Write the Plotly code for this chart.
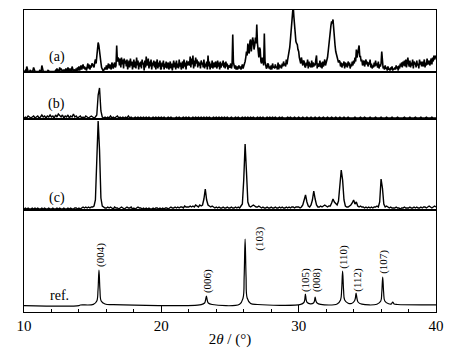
import plotly.graph_objects as go
from plotly.subplots import make_subplots

# ---- data ----
two_theta_start = 10.0
step_a = 0.05   # pattern (a): every 0.05 deg, 10.0 .. 40.0
step_bc = 0.1   # patterns (b), (c): every 0.1 deg, 10.0 .. 40.0

pattern_a = [
    0, 0, 1, 0, 5, 0, 0, 0, 0, 1,
    0, 0, 0, 1, 4, 0, 0, 0, 0, 0,
    0, 0, 0, 1, 0, 0, 6, 0, 0, 0,
    0, 0, 0, 0, 0, 1, 0, 0, 0, 0,
    0, 0, 0, 0, 0, 0, 1, 0, 3, 0,
    2, 0, 4, 1, 3, 0, 0, 1, 0, 2,
    0, 3, 1, 0, 4, 2, 0, 3, 1, 0,
    5, 1, 0, 2, 1, 0, 3, 0, 4, 1,
    5, 1, 3, 6, 2, 4, 7, 3, 5, 2,
    4, 1, 6, 8, 3, 7, 2, 6, 4, 8,
    7, 5, 4, 9, 12, 8, 18, 22, 29, 26,
    18, 12, 9, 4, 2, 1, 1, 3, 4, 2,
    6, 2, 5, 8, 3, 7, 4, 2, 9, 5,
    3, 7, 9, 4, 6, 26, 10, 14, 12, 6,
    13, 4, 14, 7, 12, 3, 13, 8, 11, 5,
    12, 2, 9, 11, 4, 13, 6, 10, 2, 8,
    12, 4, 10, 3, 14, 6, 11, 2, 9, 5,
    10, 3, 12, 7, 9, 1, 11, 4, 15, 6,
    8, 13, 3, 10, 5, 12, 2, 9, 6, 11,
    4, 10, 2, 8, 12, 3, 9, 5, 11, 2,
    3, 9, 5, 11, 2, 8, 4, 10, 3, 7,
    9, 2, 6, 10, 3, 8, 1, 7, 11, 4,
    9, 2, 11, 4, 8, 3, 12, 5, 9, 2,
    7, 10, 3, 12, 5, 9, 2, 11, 6, 8,
    10, 6, 15, 4, 13, 7, 16, 3, 11, 5,
    14, 8, 12, 4, 10, 6, 9, 3, 11, 7,
    9, 4, 12, 3, 8, 5, 10, 2, 16, 5,
    10, 2, 8, 4, 11, 3, 7, 9, 4, 10,
    7, 3, 11, 5, 9, 2, 10, 4, 8, 6,
    11, 4, 9, 3, 10, 5, 8, 2, 6, 4,
    4, 8, 3, 6, 37, 9, 5, 3, 6, 2,
    5, 2, 4, 6, 3, 5, 2, 4, 7, 3,
    5, 8, 10, 14, 20, 16, 28, 22, 18, 30,
    32, 20, 25, 34, 30, 22, 26, 34, 28, 47,
    28, 20, 14, 24, 22, 10, 8, 14, 12, 6,
    38, 10, 6, 3, 4, 8, 7, 3, 5, 2,
    6, 2, 8, 4, 5, 3, 7, 4, 5, 2,
    9, 2, 7, 4, 6, 3, 8, 5, 10, 6,
    8, 5, 12, 7, 12, 16, 18, 24, 32, 40,
    52, 60, 66, 55, 45, 38, 30, 28, 27, 22,
    20, 14, 12, 8, 14, 9, 6, 11, 10, 5,
    4, 9, 6, 12, 3, 10, 5, 8, 4, 11,
    4, 9, 5, 8, 6, 12, 16, 3, 8, 5,
    6, 11, 4, 9, 3, 10, 5, 8, 12, 6,
    8, 12, 14, 20, 28, 34, 38, 46, 50, 48,
    52, 40, 34, 26, 20, 17, 14, 10, 9, 11,
    10, 5, 9, 4, 8, 6, 10, 3, 9, 5,
    8, 4, 10, 6, 9, 3, 7, 5, 10, 6,
    11, 8, 14, 10, 22, 14, 18, 20, 26, 15,
    15, 10, 12, 6, 8, 11, 5, 9, 12, 7,
    10, 5, 9, 7, 12, 4, 8, 3, 6, 4,
    9, 5, 11, 6, 8, 4, 10, 3, 7, 5,
    8, 20, 6, 3, 5, 2, 6, 3, 4, 1,
    5, 2, 3, 1, 4, 2, 5, 1, 3, 2,
    4, 2, 6, 3, 5, 1, 6, 3, 8, 5,
    9, 4, 10, 6, 11, 5, 12, 4, 9, 14,
    8, 5, 11, 4, 9, 6, 12, 3, 10, 7,
    9, 4, 11, 6, 8, 3, 12, 7, 10, 5,
    10, 5, 8, 12, 4, 9, 6, 13, 7, 11,
    11, 6, 9, 13, 7, 14, 10, 16, 12, 15,
    16,
]

pattern_b = [
    1, 2, 1, 3, 2, 1, 2, 3, 1, 2,
    3, 1, 2, 4, 2, 3, 1, 3, 2, 4,
    2, 3, 1, 4, 2, 5, 3, 2, 4, 1,
    3, 2, 4, 1, 3, 2, 5, 2, 3, 1,
    2, 3, 1, 2, 1, 3, 2, 1, 2, 3,
    2, 1, 2, 4, 24, 31, 8, 2, 1, 2,
    1, 2, 1, 3, 1, 2, 1, 2, 3, 1,
    2, 1, 2, 1, 2, 1, 3, 1, 2, 1,
    1, 2, 1, 2, 1, 2, 1, 2, 1, 2,
    1, 2, 1, 1, 2, 1, 2, 1, 2, 1,
    2, 1, 2, 1, 1, 2, 1, 2, 1, 1,
    1, 2, 1, 2, 1, 1, 2, 1, 2, 1,
    2, 1, 1, 2, 1, 2, 1, 2, 1, 2,
    1, 2, 1, 2, 1, 2, 1, 1, 2, 1,
    2, 1, 2, 1, 2, 1, 2, 1, 2, 1,
    1, 2, 1, 1, 2, 1, 2, 1, 1, 2,
    1, 2, 1, 2, 1, 2, 1, 2, 1, 1,
    2, 1, 2, 1, 2, 1, 1, 2, 1, 2,
    1, 2, 1, 2, 1, 1, 2, 1, 2, 1,
    1, 1, 2, 1, 2, 1, 1, 2, 1, 1,
    2, 1, 1, 2, 1, 1, 2, 1, 1, 2,
    1, 1, 2, 1, 1, 2, 1, 1, 2, 1,
    1, 2, 1, 1, 2, 1, 1, 2, 1, 1,
    2, 1, 1, 2, 1, 1, 2, 1, 1, 1,
    1, 2, 1, 1, 1, 2, 1, 1, 2, 1,
    1, 1, 2, 1, 1, 1, 2, 1, 1, 1,
    2, 1, 1, 1, 2, 1, 1, 1, 2, 1,
    1, 1, 2, 1, 1, 1, 1, 2, 1, 1,
    1, 2, 1, 1, 1, 2, 1, 1, 1, 2,
    1, 1, 1, 2, 1, 1, 1, 2, 1, 1,
    1,
]

pattern_c = [
    1, 2, 1, 2, 1, 1, 2, 1, 2, 1,
    2, 1, 1, 2, 1, 2, 1, 1, 2, 1,
    1, 2, 1, 1, 2, 1, 2, 1, 1, 2,
    1, 1, 2, 1, 2, 1, 1, 2, 2, 1,
    2, 1, 2, 3, 2, 3, 2, 3, 2, 3,
    3, 4, 10, 45, 89, 60, 12, 4, 3, 2,
    2, 3, 2, 3, 2, 1, 3, 2, 2, 1,
    2, 3, 2, 1, 2, 3, 2, 2, 3, 1,
    2, 1, 2, 3, 2, 2, 1, 2, 1, 2,
    1, 2, 1, 1, 2, 1, 2, 2, 1, 2,
    1, 2, 1, 2, 2, 1, 2, 3, 2, 2,
    3, 2, 3, 2, 3, 3, 2, 4, 3, 3,
    3, 4, 3, 4, 3, 5, 4, 3, 5, 4,
    5, 11, 21, 10, 5, 4, 3, 4, 3, 2,
    3, 2, 3, 2, 2, 3, 2, 2, 3, 2,
    2, 3, 2, 2, 3, 2, 3, 2, 4, 6,
    30, 66, 38, 8, 4, 3, 4, 5, 4, 3,
    3, 4, 3, 2, 3, 2, 2, 3, 2, 2,
    3, 2, 2, 3, 2, 2, 3, 2, 3, 2,
    2, 3, 2, 3, 2, 3, 3, 2, 3, 3,
    3, 2, 3, 5, 9, 15, 8, 4, 3, 5,
    10, 19, 11, 5, 3, 3, 4, 3, 4, 5,
    4, 3, 4, 4, 7, 11, 8, 6, 5, 9,
    22, 40, 30, 10, 4, 3, 3, 4, 5, 7,
    10, 6, 8, 4, 3, 4, 3, 3, 2, 3,
    2, 3, 2, 3, 2, 3, 3, 4, 3, 8,
    31, 22, 6, 3, 4, 3, 2, 3, 2, 2,
    2, 3, 2, 2, 1, 2, 2, 3, 2, 2,
    2, 3, 2, 2, 3, 2, 3, 2, 2, 3,
    2, 3, 3, 2, 3, 4, 3, 2, 3, 4,
    3,
]

# reference (simulated) pattern, read point by point
ref_x = [10.0, 14.0, 14.1, 15.05, 15.3, 15.39, 15.46, 15.53, 15.62, 15.9, 16.5,
         22.9, 23.15, 23.22, 23.28, 23.34, 23.42, 23.7,
         25.7, 25.95, 26.03, 26.1, 26.17, 26.25, 26.5, 27.0,
         30.15, 30.38, 30.44, 30.49, 30.55, 30.62, 30.85,
         31.08, 31.15, 31.2, 31.26, 31.34, 31.6,
         32.8, 33.05, 33.13, 33.2, 33.27, 33.35, 33.6,
         33.85, 34.06, 34.13, 34.18, 34.24, 34.32, 34.6,
         35.7, 35.98, 36.05, 36.12, 36.19, 36.27, 36.55,
         36.75, 36.85, 36.95, 37.2, 40.0]
ref_y = [-0.6, -0.6, 0, 0.6, 4, 15, 35, 15, 4, 1, 0.4,
         0.4, 2, 5, 9, 5, 2, 0.5,
         0.8, 7, 28, 66, 28, 7, 1.5, 0.5,
         0.6, 2.5, 5, 11, 5, 2.5, 1.2,
         2, 4, 8, 4, 2, 0.6,
         1, 5, 15, 34, 15, 5, 1.8,
         1.5, 4, 7, 12, 7, 3, 0.8,
         0.8, 4, 12, 28, 12, 4, 1.2,
         1, 3, 1, 0.5, 0.2]

panel_labels = ["(a)", "(b)", "(c)", "ref."]
hkl_labels = ["(004)", "(006)", "(103)", "(105)", "(008)", "(110)", "(112)", "(107)"]
hkl_label_x = [15.53, 23.33, 27.09, 30.47, 31.27, 33.21, 34.23, 36.13]
hkl_label_y = [50, 24, 66, 25, 25, 48, 25, 43]

x_ticks = [10, 20, 30, 40]

assert len(pattern_a) == 601, len(pattern_a)
assert len(pattern_b) == 301 and len(pattern_c) == 301
assert len(ref_x) == len(ref_y)

# ---- figure ----
FONT = "Liberation Serif"
fig = make_subplots(rows=4, cols=1, shared_xaxes=True, vertical_spacing=0,
                    row_heights=[61.5, 47.5, 91, 102])

series = [(pattern_a, step_a, 1.6), (pattern_b, step_bc, 1.4), (pattern_c, step_bc, 1.4)]
for i, (pat, dx, w) in enumerate(series):
    fig.add_trace(go.Scatter(x0=two_theta_start, dx=dx, y=pat,
                             mode="lines", line=dict(color="black", width=w),
                             showlegend=False, hoverinfo="skip"), row=i + 1, col=1)
fig.add_trace(go.Scatter(x=ref_x, y=ref_y, mode="lines", line=dict(color="black", width=1.2),
                         showlegend=False, hoverinfo="skip", line_shape="spline"),
              row=4, col=1)

y_ranges = [[0, 61.5], [0, 47.5], [0, 91], [-7, 95]]
for i in range(4):
    fig.update_yaxes(range=y_ranges[i], showticklabels=False, ticks="",
                     showgrid=False, zeroline=False, showline=True, mirror=True,
                     linecolor="black", linewidth=1, row=i + 1, col=1)
    fig.update_xaxes(range=[10, 40], showgrid=False, zeroline=False,
                     showline=True, mirror=True, linecolor="black", linewidth=1,
                     row=i + 1, col=1)
for i in range(3):
    fig.update_xaxes(showticklabels=False, ticks="", row=i + 1, col=1)

fig.update_xaxes(tickvals=x_ticks, ticks="inside", ticklen=7, tickwidth=1,
                 tickcolor="black",
                 minor=dict(dtick=2, tick0=10, ticks="inside", ticklen=3,
                            tickcolor="black", tickwidth=1),
                 tickfont=dict(family=FONT, size=15, color="black"),
                 title=dict(text="2<i>θ</i> / (°)", standoff=0,
                            font=dict(family=FONT, size=15, color="black")),
                 row=4, col=1)

label_pos = [(12.4, 14.5, "y"), (12.4, 15, "y2"), (12.4, 12, "y3"), (12.6, 10, "y4")]
for txt, (lx, ly, yr) in zip(panel_labels, label_pos):
    fig.add_annotation(x=lx, y=ly, xref="x", yref=yr, text=txt,
                       showarrow=False,
                       font=dict(family=FONT, size=14, color="black"))

for txt, lx, ly in zip(hkl_labels, hkl_label_x, hkl_label_y):
    fig.add_annotation(x=lx, y=ly, xref="x", yref="y4", text=txt, textangle=-90,
                       showarrow=False,
                       font=dict(family=FONT, size=11, color="black"))

# page body adds an 8px offset, so the figure is 8px smaller and margins shifted
fig.update_layout(width=448, height=349,
                  margin=dict(l=16, r=20, t=2, b=45, autoexpand=False),
                  plot_bgcolor="white", paper_bgcolor="white",
                  font=dict(family=FONT, color="black"))

fig.write_html("out.html")
